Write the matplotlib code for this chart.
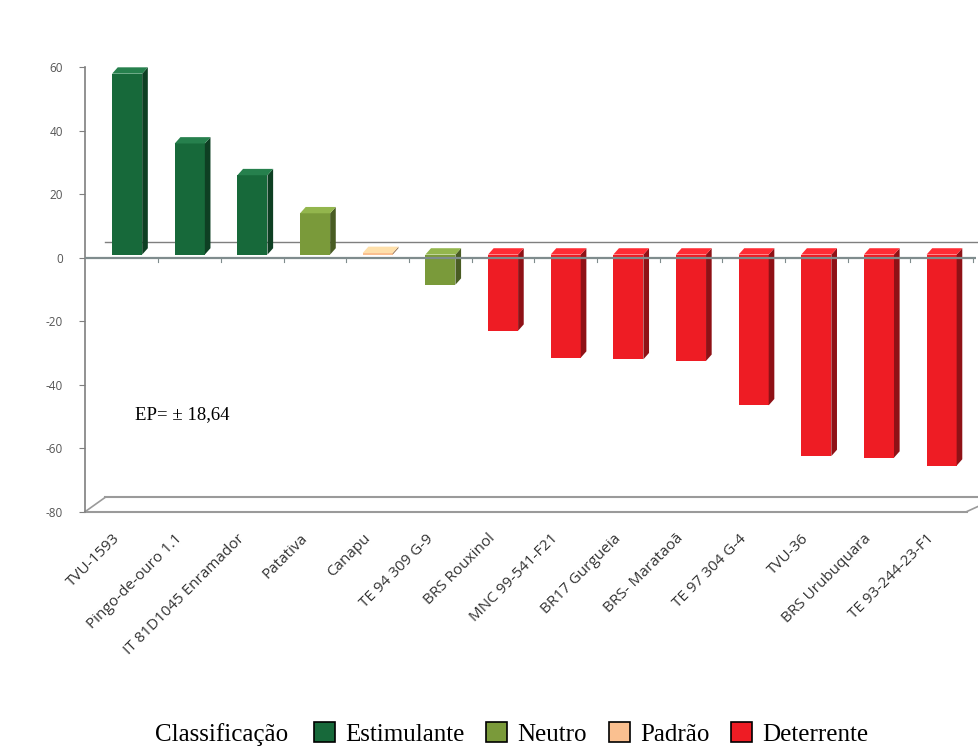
import matplotlib.pyplot as plt
import matplotlib.colors as mcolors
import matplotlib.transforms as mtransforms
from matplotlib.patches import Patch, Polygon

# dados
cultivares = ['TVU-1593', 'Pingo-de-ouro 1.1', 'IT 81D1045 Enramador', 'Patativa', 'Canapu',
              'TE 94 309 G-9', 'BRS Rouxinol', 'MNC 99-541-F21', 'BR17 Gurgueia',
              'BRS- Marataoã', 'TE 97 304 G-4', 'TVU-36', 'BRS Urubuquara', 'TE 93-244-23-F1']
valores = [57, 35, 25, 13, 0.5, -9.5, -24, -32.5, -33, -33.5, -47.5, -63.5, -64, -66.5]
classes = ['Estimulante', 'Estimulante', 'Estimulante', 'Neutro', 'Padrão', 'Neutro',
           'Deterrente', 'Deterrente', 'Deterrente', 'Deterrente', 'Deterrente',
           'Deterrente', 'Deterrente', 'Deterrente']
cores = {'Estimulante': '#17693a', 'Neutro': '#7a9a3a', 'Padrão': '#fac090', 'Deterrente': '#ee1c24'}
yticks = [60, 40, 20, 0, -20, -40, -60, -80]

fig = plt.figure(figsize=(9.79, 7.48), dpi=100)
ax = fig.add_axes([0.087, 0.316, 0.91, 0.594])
ax.set_xlim(-0.67, 13.55)
ax.set_ylim(-80, 60)

dx, dy = 0.09, 2.0  # profundidade do "3D"
w = 0.48
for i, (v, c) in enumerate(zip(valores, classes)):
    base = mcolors.to_rgb(cores[c])
    escuro = tuple(k * 0.6 for k in base)
    claro = tuple(min(1, k * 1.1 + 0.05) for k in base)
    x0 = i - w / 2
    ax.bar(i, v, width=w, bottom=dy / 2, color=base, edgecolor='none', zorder=3)
    # lateral
    ax.add_patch(Polygon([(x0 + w, dy / 2), (x0 + w + dx, dy * 1.5), (x0 + w + dx, v + dy * 1.5),
                          (x0 + w, v + dy / 2)], closed=True, color=escuro, zorder=3, lw=0))
    # topo
    ytop = (v if v > 0 else 0) + dy / 2
    ax.add_patch(Polygon([(x0, ytop), (x0 + dx, ytop + dy), (x0 + w + dx, ytop + dy), (x0 + w, ytop)],
                         closed=True, color=claro, zorder=3, lw=0))

# linha de zero (frente e fundo)
ax.axhline(0, color='#7f8c8d', lw=1.6, zorder=4)
ax.plot([-0.35, 13.9], [5, 5], color='#7f7f7f', lw=1, zorder=2, clip_on=False)
for i in range(len(cultivares)):
    ax.plot([i + 0.5, i + 0.5], [0, -1.2], color='#7f8c8d', lw=0.8, zorder=4)

# piso
ax.plot([-0.67, 13.4], [-80, -80], color='#9a9a9a', lw=1.5, clip_on=False)
ax.plot([-0.35, 13.9], [-75.5, -75.5], color='#9a9a9a', lw=1.5, clip_on=False)
ax.plot([-0.67, -0.35], [-80, -75.5], color='#9a9a9a', lw=1.2, clip_on=False)
ax.plot([13.4, 13.9], [-80, -75.5], color='#9a9a9a', lw=1.2, clip_on=False)

for s in ['top', 'right', 'bottom']:
    ax.spines[s].set_visible(False)
ax.spines['left'].set_color('#7f7f7f')
ax.spines['left'].set_linewidth(1.2)
ax.set_yticks(yticks)
ax.set_yticklabels([str(t) for t in yticks], color='#555555', fontsize=8.5, family='Open Sans')
ax.tick_params(axis='y', length=4, color='#7f7f7f', pad=12)

ax.set_xticks(range(len(cultivares)))
ax.set_xticklabels(cultivares, rotation=45, ha='right', rotation_mode='anchor',
                   fontsize=11, family='Open Sans', color='#333333')
ax.tick_params(axis='x', length=0, pad=14)
desloc = mtransforms.ScaledTranslation(-0.15, 0, fig.dpi_scale_trans)
for lbl in ax.get_xticklabels():
    lbl.set_transform(lbl.get_transform() + desloc)

ax.text(0.13, -49.5, 'EP= ± 18,64', family='Liberation Serif', fontsize=13.5, va='center')

# legenda
fig.text(155 / 979, 0.0187, 'Classificação', family='Liberation Serif', fontsize=18, va='center')
handles = [Patch(facecolor=cores[k], edgecolor='black', lw=1.2, label=k) for k in cores]
fig.legend(handles=handles, loc='center left', bbox_to_anchor=(314 / 979, 0.0187), ncol=4,
           frameon=False, prop={'family': 'Liberation Serif', 'size': 18},
           borderpad=0, borderaxespad=0,
           handlelength=0.84, handleheight=0.8, handletextpad=0.4, columnspacing=0.88)

fig.savefig('out.png', dpi=100)
